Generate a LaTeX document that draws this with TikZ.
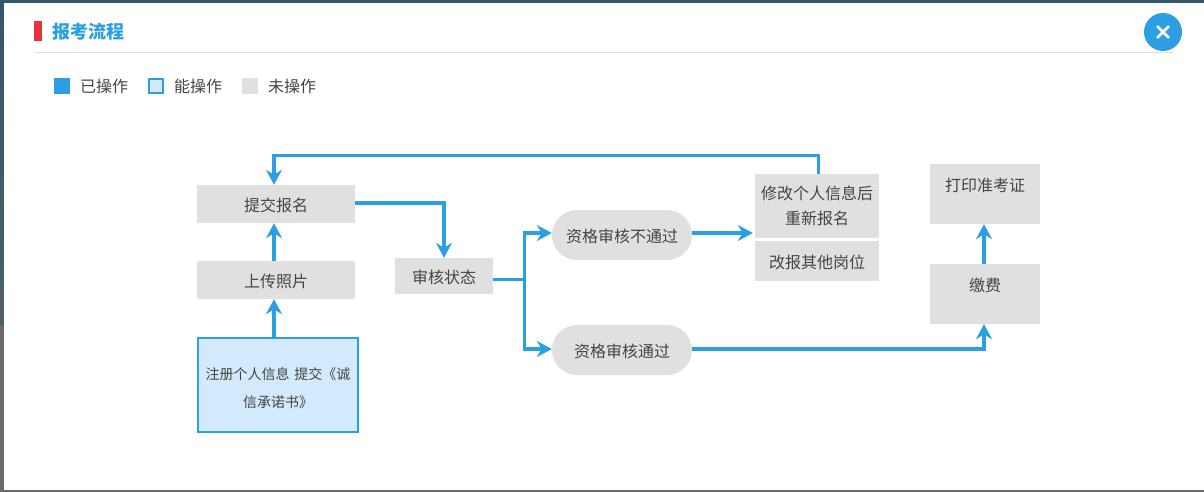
\documentclass[tikz,border=0pt]{standalone}
\usepackage{fontspec}
\setmainfont{Noto Sans CJK SC}
\usepackage{tikz}
\usetikzlibrary{arrows.meta,positioning,calc}
\definecolor{doneblue}{HTML}{2A9FE6}
\definecolor{linkblue}{HTML}{2B9FE2}
\definecolor{openblue}{HTML}{D2EAFB}
\definecolor{todogray}{HTML}{E0E0E0}
\definecolor{textgray}{HTML}{444444}
\definecolor{markred}{HTML}{E5343F}
\definecolor{ruleline}{HTML}{DDDDDD}
\definecolor{shadeteal}{HTML}{37566A}
\definecolor{shademid}{HTML}{4F5F66}
\definecolor{shadegray}{HTML}{6B6B6B}

\begin{document}
\begin{tikzpicture}[
    x=1pt, y=-1pt,
    todo/.style={fill=todogray, text=textgray, inner sep=0pt, align=center, font=\fontsize{16}{25}\selectfont, execute at begin node={\rule{0pt}{16pt}}},
    pill/.style={todo, rounded corners=25pt, minimum width=140pt, minimum height=50pt},
    open/.style={draw=linkblue, line width=2pt, fill=openblue, text=textgray, inner sep=0pt, align=center, font=\fontsize{14}{28}\selectfont},
    swatch/.style={minimum size=16pt, inner sep=0pt},
    legend/.style={text=textgray, inner sep=0pt, font=\fontsize{16}{20}\selectfont},
    arr/.style={-{Stealth[length=15pt,width=16pt,inset=5pt]}, line width=3.2pt, draw=linkblue},
    seg/.style={line width=3.2pt, draw=linkblue}
]
\fill[top color=shadeteal, bottom color=shademid] (0,0) rectangle (1204,325);
\fill[shadegray] (0,325) rectangle (1204,492);
\fill[white] (4,3) rectangle (1204,490);

\node[fill=markred, minimum width=8pt, minimum height=20pt, inner sep=0pt] (mark) at (38,31) {};
\node[anchor=west, text=linkblue, inner sep=0pt, font=\fontsize{18}{20}\selectfont\bfseries] (title) at (52,32) {报考流程};
\node[inner sep=0pt] (ruleL) at (34,53) {};
\node[inner sep=0pt] (ruleR) at (1174,53) {};
\draw[ruleline, line width=1pt] (ruleL) -- (ruleR);
\node[circle, fill=linkblue, minimum size=38pt, inner sep=0pt] (closebtn) at (1163,32) {};
\draw[white, line width=2.6pt, line cap=round] ($(closebtn)+(-5.5,-5.5)$) -- ($(closebtn)+(5.5,5.5)$);
\draw[white, line width=2.6pt, line cap=round] ($(closebtn)+(-5.5,5.5)$) -- ($(closebtn)+(5.5,-5.5)$);

\node[swatch, fill=doneblue] (s1) at (62,86) {};
\node[legend, anchor=west] (l1) at (80,86) {已操作};
\node[swatch, minimum size=14pt, draw=linkblue, line width=2pt, fill=openblue] (s2) at (156,86) {};
\node[legend, anchor=west] (l2) at (174,86) {能操作};
\node[swatch, fill=todogray] (s3) at (250,86) {};
\node[legend, anchor=west] (l3) at (268,86) {未操作};

\node[todo, minimum width=158pt, minimum height=38pt] (submit) at (276,204) {提交报名};
\node[todo, minimum width=158pt, minimum height=38pt] (photo) at (276,280) {上传照片};
\node[open, minimum width=160pt, minimum height=94pt, text width=150pt, execute at begin node={\rule{0pt}{18pt}}] (reg) at (278,385) {注册个人信息 提交《诚\\信承诺书》};
\node[todo, minimum width=98pt, minimum height=36pt] (status) at (444,276) {审核状态};
\node[pill] (fail) at (622,235) {资格审核不通过};
\node[pill] (pass) at (622,350) {资格审核通过};
\node[todo, minimum width=124pt, minimum height=64pt] (edit) at (817,206) {修改个人信息后\\重新报名};
\node[todo, minimum width=124pt, minimum height=40pt] (other) at (817,261) {改报其他岗位};
\node[todo, minimum width=110pt, minimum height=60pt] (ticket) at (985,194) {打印准考证\\[-7pt]\mbox{}};
\node[todo, minimum width=110pt, minimum height=60pt] (fee) at (985,294) {缴费\\[-7pt]\mbox{}};
\coordinate (fork) at (524.5,279.5);

\draw[arr] ([xshift=-4pt]reg.north) -- ([xshift=-2pt]photo.south);
\draw[arr] ([xshift=-2pt]photo.north) -- ([xshift=-2pt]submit.south);
\draw[arr] ([yshift=1pt]submit.east) -| (status.north);
\draw[seg] (status.east |- fork) -- (fork);
\draw[arr] (fork) |- ([yshift=2pt]fail.west);
\draw[arr] (fork) |- ([yshift=1pt]pass.west);
\draw[arr, shorten >=2pt] ([yshift=2pt]fail.east) -- ([yshift=2pt]fail.east -| edit.west);
\draw[arr] ([yshift=1pt]pass.east) -| ([xshift=-1pt]fee.south);
\draw[arr] ([xshift=-1pt]fee.north) -- ([xshift=-1pt]ticket.south);
\draw[arr] ([xshift=1.5pt]edit.north) -- ++(0,-18.5) -| ([xshift=-2pt]submit.north);
\end{tikzpicture}
\end{document}
